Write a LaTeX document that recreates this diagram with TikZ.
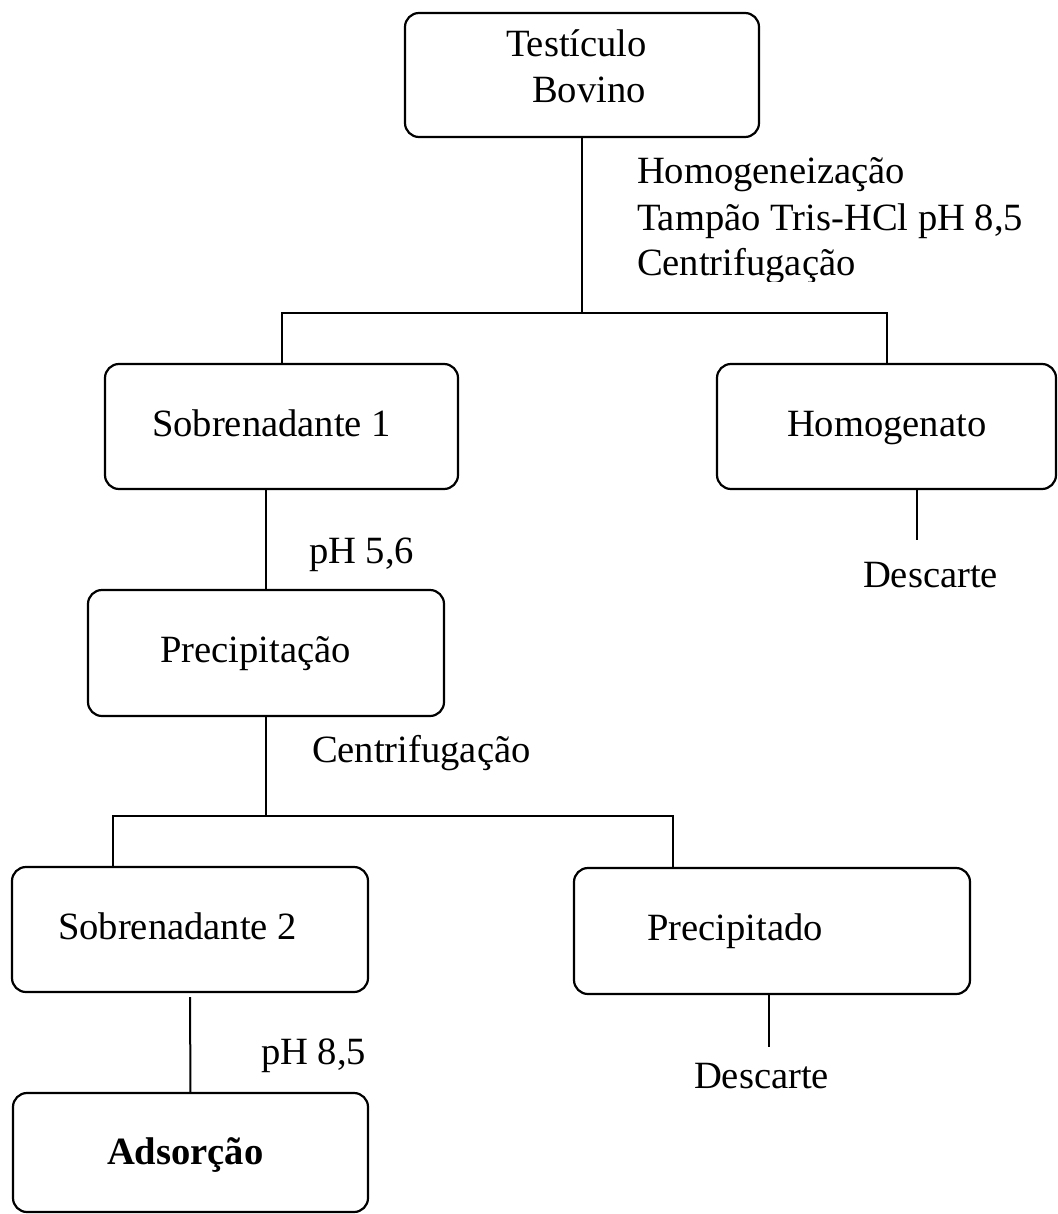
\documentclass[tikz,border=0pt]{standalone}
\usepackage{fontspec}
\setmainfont{Liberation Serif}
\begin{document}
\begin{tikzpicture}[x=0.5pt,y=-0.5pt,
  stagebox/.style={draw, rounded corners=7pt, line width=1.1pt, inner sep=0pt, outer sep=0pt},
  lbl/.style={anchor=base west, inner sep=0pt, outer sep=0pt, font=\fontsize{19.3pt}{23pt}\selectfont},
  link/.style={line width=1pt}]
\useasboundingbox (0,0) rectangle (1058,1214);

% stage boxes
\node[stagebox, minimum width=177pt,   minimum height=62pt]   (testiculo) at (582,75) {};
\node[stagebox, minimum width=176.5pt, minimum height=62.5pt] (sob1)      at (281.5,426.5) {};
\node[stagebox, minimum width=169.5pt, minimum height=62.5pt] (homog)     at (886.5,426.5) {};
\node[stagebox, minimum width=178pt,   minimum height=63pt]   (precip1)   at (266,653) {};
\node[stagebox, minimum width=178pt,   minimum height=62.5pt] (sob2)      at (190,929.5) {};
\node[stagebox, minimum width=198pt,   minimum height=63pt]   (precip2)   at (772,931) {};
\node[stagebox, minimum width=177.5pt, minimum height=59.5pt] (adsorcao)  at (190.5,1152.5) {};

% box labels
\node[lbl] (tTesticulo) at (506,57)  {Testículo};
\node[lbl] (tBovino)    at (532,103) {Bovino};
\node[lbl] (tSob1)      at (152,436) {Sobrenadante 1};
\node[lbl] (tHomog)     at (787,436) {Homogenato};
\node[lbl] (tPrecip1)   at (160,662) {Precipitação};
\node[lbl] (tSob2)      at (58,939)  {Sobrenadante 2};
\node[lbl] (tPrecip2)   at (647,940) {Precipitado};
\node[lbl, font=\fontsize{19.3pt}{23pt}\selectfont\bfseries] (tAds) at (107,1164) {Adsorção};

% step annotations
\node[lbl] (stepA1) at (637,184) {Homogeneização};
\node[lbl] (stepA2) at (637,230) {Tampão Tris-HCl pH 8,5};
\begin{scope}
  \clip (600,240) rectangle (1058,281);
  \node[lbl] (stepA3) at (637,275) {Centrifugação};
\end{scope}
\node[lbl] (stepB)  at (309,563)  {pH 5,6};
\node[lbl] (stepC)  at (312,762)  {Centrifugação};
\node[lbl] (stepD)  at (261,1064) {pH 8,5};
\node[lbl] (disc1)  at (863,587)  {Descarte};
\node[lbl] (disc2)  at (694,1088) {Descarte};

% branch points and free ends
\coordinate (split1) at (582,313);
\coordinate (split2) at (266,816);
\coordinate (left2)  at (113,816);
\coordinate (right2) at (673,816);
\coordinate (end1)   at (917,540);
\coordinate (end2)   at (769,1047);

% connectors
\draw[link] (testiculo.south) -- (split1);
\draw[link] (sob1.north) |- (split1) -| (homog.north);
\draw[link] (sob1.south -| precip1.north) -- (precip1.north);
\draw[link] (homog.south -| end1) -- (end1);
\draw[link] (precip1.south) -- (split2);
\draw[link] (sob2.north -| left2) -- (left2) -- (right2) -- (precip2.north -| right2);
\draw[link] ([yshift=-2.5pt]sob2.south) -- (adsorcao.north);
\draw[link] (precip2.south -| end2) -- (end2);
\end{tikzpicture}
\end{document}
